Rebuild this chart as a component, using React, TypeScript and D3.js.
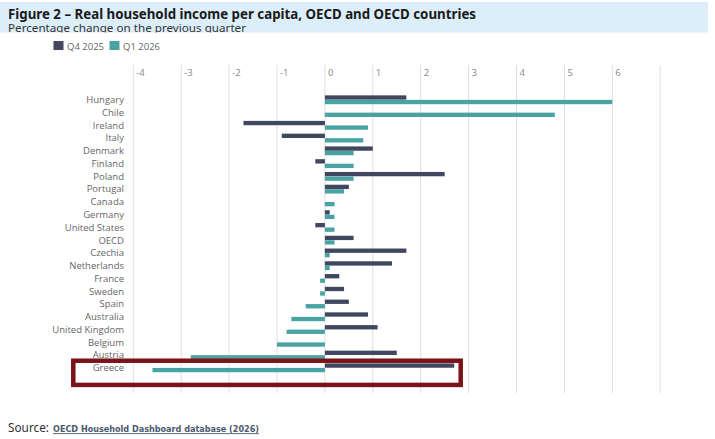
import React, { useEffect, useRef } from 'react';
import * as d3 from 'd3';

const countries = [
  'Hungary', 'Chile', 'Ireland', 'Italy', 'Denmark', 'Finland', 'Poland', 'Portugal',
  'Canada', 'Germany', 'United States', 'OECD', 'Czechia', 'Netherlands', 'France',
  'Sweden', 'Spain', 'Australia', 'United Kingdom', 'Belgium', 'Austria', 'Greece',
];
const q4_2025 = [1.7, 0, -1.7, -0.9, 1.0, -0.2, 2.5, 0.5, 0, 0.1, -0.2, 0.6, 1.7, 1.4, 0.3, 0.4, 0.5, 0.9, 1.1, 0, 1.5, 2.7];
const q1_2026 = [6.0, 4.8, 0.9, 0.8, 0.6, 0.6, 0.6, 0.4, 0.2, 0.2, 0.2, 0.2, 0.1, 0.1, -0.1, -0.1, -0.4, -0.7, -0.8, -1.0, -2.8, -3.6];
const seriesNames = ['Q4 2025', 'Q1 2026'];
const tickValues = [-4, -3, -2, -1, 0, 1, 2, 3, 4, 5, 6];
const highlighted = 'Greece';

const COLORS = ['#40475f', '#4aa3a3'];

const App: React.FC = () => {
  const svgRef = useRef<SVGSVGElement>(null);

  useEffect(() => {
    if (!svgRef.current) return;
    const svg = d3.select(svgRef.current);
    svg.selectAll('*').remove();

    const W = 715;
    const H = 439;
    svg.attr('width', W).attr('height', H).attr('viewBox', `0 0 ${W} ${H}`);

    // header band
    svg.append('defs').append('clipPath').attr('id', 'hdr')
      .append('rect').attr('x', 0).attr('y', 2).attr('width', 708).attr('height', 30.5);
    svg.append('rect').attr('x', 0).attr('y', 2).attr('width', 708).attr('height', 30.5).attr('fill', '#ddeefb');
    const hdr = svg.append('g').attr('clip-path', 'url(#hdr)');
    hdr.append('text')
      .attr('x', 8).attr('y', 18.5)
      .attr('font-family', '"Noto Sans", sans-serif')
      .attr('font-weight', 700).attr('font-size', 14)
      .attr('textLength', 468).attr('lengthAdjust', 'spacingAndGlyphs')
      .attr('fill', '#1a1a1a')
      .text('Figure 2 – Real household income per capita, OECD and OECD countries');
    hdr.append('text')
      .attr('x', 8).attr('y', 32)
      .attr('font-family', '"Noto Sans", sans-serif')
      .attr('font-size', 11.5)
      .attr('textLength', 238).attr('lengthAdjust', 'spacingAndGlyphs')
      .attr('fill', '#333')
      .text('Percentage change on the previous quarter');

    // legend
    const legendX = [53.5, 109.5];
    seriesNames.forEach((name, i) => {
      svg.append('rect').attr('x', legendX[i]).attr('y', 41).attr('width', 10).attr('height', 9).attr('fill', COLORS[i]);
      svg.append('text').attr('x', legendX[i] + 13.5).attr('y', 49.5)
        .attr('font-family', '"Open Sans", sans-serif').attr('font-size', 9.5)
        .attr('fill', '#666').text(name);
    });

    const x = d3.scaleLinear().domain([-4, 7]).range([133.3, 133.3 + 11 * 47.9]);
    const y = d3.scaleBand<string>().domain(countries).range([93.4, 374.2]).paddingInner(0.28).paddingOuter(0.14);
    const sub = d3.scaleBand<number>().domain([0, 1]).range([0, y.bandwidth()]).padding(0.04);

    // grid
    svg.append('g').selectAll('line').data([...tickValues, 7]).enter().append('line')
      .attr('x1', d => x(d)).attr('x2', d => x(d))
      .attr('y1', 65).attr('y2', 393)
      .attr('stroke', '#dedede').attr('stroke-width', 1);

    svg.append('g').selectAll('text').data(tickValues).enter().append('text')
      .attr('x', d => x(d) + 3).attr('y', 75.5)
      .attr('font-family', '"Open Sans", sans-serif').attr('font-size', 9.5)
      .attr('fill', '#888').text(d => String(d));

    // country labels
    svg.append('g').selectAll('text').data(countries).enter().append('text')
      .attr('x', 124).attr('y', d => (y(d) as number) + y.bandwidth() / 2)
      .attr('dy', '0.35em').attr('text-anchor', 'end')
      .attr('font-family', '"Open Sans", sans-serif').attr('font-size', 9.5)
      .attr('fill', '#666').text(d => d);

    // bars
    [q4_2025, q1_2026].forEach((vals, s) => {
      svg.append('g').selectAll('rect').data(vals).enter().append('rect')
        .attr('x', d => x(Math.min(0, d)))
        .attr('y', (_, i) => (y(countries[i]) as number) + (sub(s) as number))
        .attr('width', d => Math.abs(x(d) - x(0)))
        .attr('height', sub.bandwidth())
        .attr('fill', COLORS[s]);
    });

    // highlight box
    const hy = y(highlighted) as number;
    svg.append('rect')
      .attr('x', 73.3).attr('y', hy - 2.5)
      .attr('width', 387.4).attr('height', y.bandwidth() + 15)
      .attr('fill', 'none').attr('stroke', '#7b1419').attr('stroke-width', 4.5);

    // source
    svg.append('text').attr('x', 8).attr('y', 431.7)
      .attr('font-family', '"Noto Sans", sans-serif').attr('font-size', 12)
      .attr('textLength', 41).attr('lengthAdjust', 'spacingAndGlyphs')
      .attr('fill', '#333').text('Source:');
    svg.append('text').attr('x', 53).attr('y', 431.7)
      .attr('font-family', '"DejaVu Sans Condensed", "DejaVu Sans", sans-serif')
      .attr('font-weight', 700).attr('font-size', 9.5)
      .attr('textLength', 206).attr('lengthAdjust', 'spacingAndGlyphs')
      .attr('fill', '#4a5a6e').text('OECD Household Dashboard database (2026)');
    svg.append('line').attr('x1', 53).attr('x2', 259).attr('y1', 433.6).attr('y2', 433.6)
      .attr('stroke', '#4a5a6e').attr('stroke-width', 0.9);
  }, []);

  return (
    <div style={{ position: 'absolute', left: 0, top: 0, width: 715, height: 439, background: '#fff' }}>
      <svg ref={svgRef} style={{ display: 'block' }} />
    </div>
  );
};

export default App;
